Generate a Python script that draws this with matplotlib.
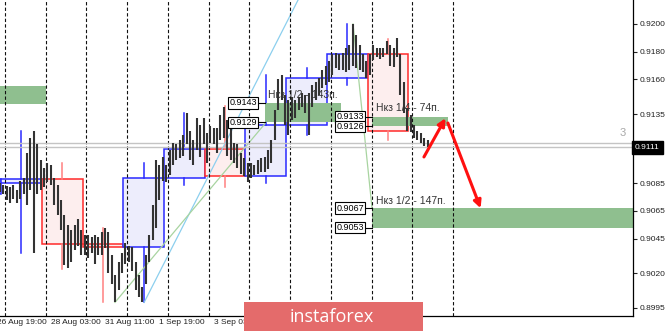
import matplotlib
matplotlib.use("Agg")
import matplotlib.pyplot as plt
import matplotlib.transforms as mtrans
from matplotlib.patches import Rectangle
import numpy as np

# hourly time axis, 0 = 26 Aug 19:00 (weekend hours removed)
bar_hours = np.arange(2, 256, 2)
hi = [0.9085, 0.9084, 0.9083, 0.9082, 0.9084, 0.9080, 0.9087, 0.9089, 0.9107, 0.9118,
      0.9123, 0.9113, 0.9102, 0.9096, 0.9100, 0.9098, 0.9089, 0.9084, 0.9073, 0.9062,
      0.9055, 0.9051, 0.9055, 0.9059, 0.9051, 0.9048, 0.9048, 0.9046, 0.9048, 0.9046,
      0.9050, 0.9053, 0.9050, 0.9033, 0.9019, 0.9028, 0.9035, 0.9042, 0.9040, 0.9039,
      0.9028, 0.9019, 0.9010, 0.9033, 0.9048, 0.9069, 0.9102, 0.9098, 0.9104, 0.9098,
      0.9109, 0.9114, 0.9113, 0.9116, 0.9120, 0.9136, 0.9123, 0.9116, 0.9132, 0.9127,
      0.9132, 0.9121, 0.9126, 0.9125, 0.9125, 0.9134, 0.9140, 0.9131, 0.9126, 0.9114,
      0.9113, 0.9107, 0.9103, 0.9100, 0.9100, 0.9098, 0.9102, 0.9103, 0.9104, 0.9109,
      0.9116, 0.9138, 0.9160, 0.9163, 0.9149, 0.9145, 0.9147, 0.9145, 0.9147, 0.9150,
      0.9149, 0.9150, 0.9156, 0.9158, 0.9161, 0.9167, 0.9170, 0.9173, 0.9178, 0.9179,
      0.9178, 0.9179, 0.9183, 0.9185, 0.9200, 0.9192, 0.9185, 0.9178, 0.9173, 0.9178,
      0.9185, 0.9183, 0.9183, 0.9183, 0.9188, 0.9185, 0.9183, 0.9190, 0.9178, 0.9158,
      0.9139, 0.9134, 0.9127, 0.9123, 0.9121, 0.9118, 0.9116]
lo = [0.9079, 0.9077, 0.9073, 0.9071, 0.9074, 0.9071, 0.9074, 0.9077, 0.9069, 0.9080,
      0.9035, 0.9077, 0.9080, 0.9082, 0.9086, 0.9084, 0.9069, 0.9062, 0.9051, 0.9026,
      0.9024, 0.9028, 0.9037, 0.9040, 0.9033, 0.9033, 0.9031, 0.9035, 0.9027, 0.9033,
      0.9033, 0.9038, 0.9020, 0.9012, 0.8999, 0.9008, 0.9020, 0.9027, 0.9028, 0.9022,
      0.9008, 0.9003, 0.8999, 0.9012, 0.9028, 0.9044, 0.9053, 0.9073, 0.9087, 0.9086,
      0.9091, 0.9098, 0.9102, 0.9103, 0.9105, 0.9113, 0.9102, 0.9098, 0.9109, 0.9104,
      0.9113, 0.9100, 0.9114, 0.9113, 0.9107, 0.9116, 0.9118, 0.9105, 0.9102, 0.9100,
      0.9096, 0.9092, 0.9090, 0.9086, 0.9089, 0.9091, 0.9092, 0.9093, 0.9093, 0.9095,
      0.9100, 0.9116, 0.9138, 0.9145, 0.9127, 0.9120, 0.9131, 0.9132, 0.9138, 0.9140,
      0.9136, 0.9120, 0.9140, 0.9145, 0.9149, 0.9154, 0.9156, 0.9158, 0.9163, 0.9168,
      0.9167, 0.9167, 0.9165, 0.9167, 0.9170, 0.9168, 0.9167, 0.9165, 0.9161, 0.9163,
      0.9174, 0.9176, 0.9175, 0.9176, 0.9178, 0.9170, 0.9169, 0.9176, 0.9149, 0.9136,
      0.9123, 0.9122, 0.9118, 0.9116, 0.9114, 0.9112, 0.9111]

day_starts = [5, 29, 53, 77, 101, 125, 149, 173, 197, 221, 245, 269]
xlabel_hours = [0, 32, 64, 96, 128]
xlabels = ["26 Aug 19:00", "28 Aug 03:00", "31 Aug 11:00", "1 Sep 19:00", "3 Sep 03:00"]

# daily boxes (24h long)
box_start = [-21.3, 2.7, 26.7, 50.7, 74.7, 98.7, 122.7, 146.7, 170.7, 194.7, 218.7]
box_open = [0.9077, 0.9085, 0.9088, 0.9041, 0.9039, 0.9089, 0.9110, 0.9090, 0.9127, 0.9161, 0.9178]
box_close = [0.9088, 0.9088, 0.9041, 0.9039, 0.9089, 0.9110, 0.9090, 0.9127, 0.9161, 0.9178, 0.9123]
box_high = [0.9095, 0.9123, 0.9100, 0.9053, 0.9100, 0.9136, 0.9141, 0.9163, 0.9168, 0.9200, 0.9189]
box_low = [0.9070, 0.9035, 0.9023, 0.8999, 0.8999, 0.9084, 0.9082, 0.9085, 0.9120, 0.9156, 0.9116]

# target zones
zone_start = [-20, 158.2, 221.3, 221.3]
zone_end = [29, 203, 266, 400]
zone_top = [0.9155, 0.9143, 0.9133, 0.9067]
zone_bot = [0.9142, 0.9129, 0.9126, 0.9053]
zone_label_x = [None, 153.5, 216.5, 216.5]

captions = ["Нкз 1/2 - 143п.", "Нкз 1/4 - 74п.", "Нкз 1/2 - 147п."]
caption_x = [159.9, 223.6, 223.6]
caption_y = [0.9149, 0.9139, 0.9072]

fib_x = [[87, 178], [69.8, 158.2], [210.1, 221.3]]
fib_y = [[0.8999, 0.9218], [0.8999, 0.9128], [0.9200, 0.9067]]
fib_col = ["#8ccfee", "#a8d4a0", "#a8d4a0"]

arrows = [((251.9, 0.9104), (264.6, 0.9132)), ((266.0, 0.91285), (285.3, 0.9067))]

price_ticks = [0.9200, 0.9180, 0.9160, 0.9135, 0.9085, 0.9065, 0.9045, 0.9020, 0.8995]
bid, ask = 0.9111, 0.9114

W, H = 665, 333
fig = plt.figure(figsize=(W / 100, H / 100), dpi=100)
ax = fig.add_axes([0, 17 / H, 633 / W, 316 / H])
ax.set_xlim(2.06, 375.1)
ax.set_ylim(0.89892, 0.92173)

tick_font = "Liberation Sans"

# day boxes
for s, o, c, h, l in zip(box_start, box_open, box_close, box_high, box_low):
    up = c >= o
    ec = "#2a2aff" if up else "#ff2a2a"
    fc = "#ededfc" if up else "#fdeeee"
    wc = "#2a2aff" if up else "#ff8080"
    ax.add_patch(Rectangle((s, min(o, c)), 24, abs(c - o), fc=fc, ec=ec, lw=1.1, zorder=1))
    ax.plot([s + 12, s + 12], [l, min(o, c)], color=wc, lw=1.1, zorder=1)
    ax.plot([s + 12, s + 12], [max(o, c), h], color=wc, lw=1.1, zorder=1)

# zones
for x0, x1, t, b in zip(zone_start, zone_end, zone_top, zone_bot):
    ax.add_patch(Rectangle((x0, b), x1 - x0, t - b, fc="#8fbf8f", ec="none", zorder=2))

for x, y, s in zip(caption_x, caption_y, captions):
    ax.text(x, y, s, fontsize=7.5, family=tick_font, color="#333333", va="center", ha="left", zorder=2)

for lx, x0, t, b in zip(zone_label_x, zone_start, zone_top, zone_bot):
    if lx is None:
        continue
    for p in (t, b):
        ax.plot([lx, x0], [p, p], color="black", lw=0.8, zorder=4)
        ax.text(lx, p, "%.4f" % p, fontsize=6.5, family=tick_font, ha="right", va="center", zorder=4,
                bbox=dict(boxstyle="square,pad=0.14", fc="white", ec="black", lw=0.8))

for xs, ys, c in zip(fib_x, fib_y, fib_col):
    ax.plot(xs, ys, color=c, lw=0.9, zorder=2.5)

for d in day_starts:
    ax.axvline(d, color="#111111", lw=0.8, ls=(0, (3, 2)), zorder=2.6)

ax.axhline(bid, color="#c4c4c4", lw=1, zorder=2.7)
ax.axhline(ask, color="#c4c4c4", lw=1, zorder=2.7)

# price bars
ax.vlines(bar_hours, lo, hi, color="#333333", lw=1.5, zorder=3)

for (x0, y0), (x1, y1) in arrows:
    ax.annotate("", xy=(x1, y1), xytext=(x0, y0), zorder=5,
                arrowprops=dict(arrowstyle="-|>", color="#ff1010", lw=2.2, mutation_scale=11,
                                shrinkA=0, shrinkB=0))

ax.text(371, 0.9121, "3", color="#a8a8a8", fontsize=8, family=tick_font, ha="right", va="center")

# axes styling
for sp in ("left", "top"):
    ax.spines[sp].set_visible(False)
ax.spines["right"].set_linewidth(0.9)
ax.spines["bottom"].set_linewidth(0.9)
ax.set_xticks([])
ax.yaxis.tick_right()
ax.set_yticks(price_ticks)
ax.set_yticklabels(["%.4f" % p for p in price_ticks], fontsize=6, family=tick_font)
ax.tick_params(axis="y", length=3, width=0.8, pad=2, colors="#222222")

tr = mtrans.blended_transform_factory(ax.transData, ax.transAxes)
for h, s in zip(xlabel_hours, xlabels):
    ax.text(h, -0.022, s, transform=tr, fontsize=6, family=tick_font, ha="left", va="center",
            color="#222222", clip_on=False)

tr2 = mtrans.blended_transform_factory(ax.transAxes, ax.transData)
ax.text(1.003, bid, "%.4f" % bid, transform=tr2, fontsize=6, family=tick_font, color="white",
        ha="left", va="center", clip_on=False, zorder=6,
        bbox=dict(boxstyle="square,pad=0.35", fc="black", ec="black"))

# watermark
fig.patches.append(Rectangle((244 / W, 2 / H), 179 / W, 29 / H, transform=fig.transFigure,
                             fc="#e46b6b", ec="none", zorder=10))
fig.text(332 / W, 16 / H, "instaforex", color="white", fontsize=13, family="Open Sans",
         ha="center", va="center", zorder=11)

fig.savefig("out.png", dpi=100)
